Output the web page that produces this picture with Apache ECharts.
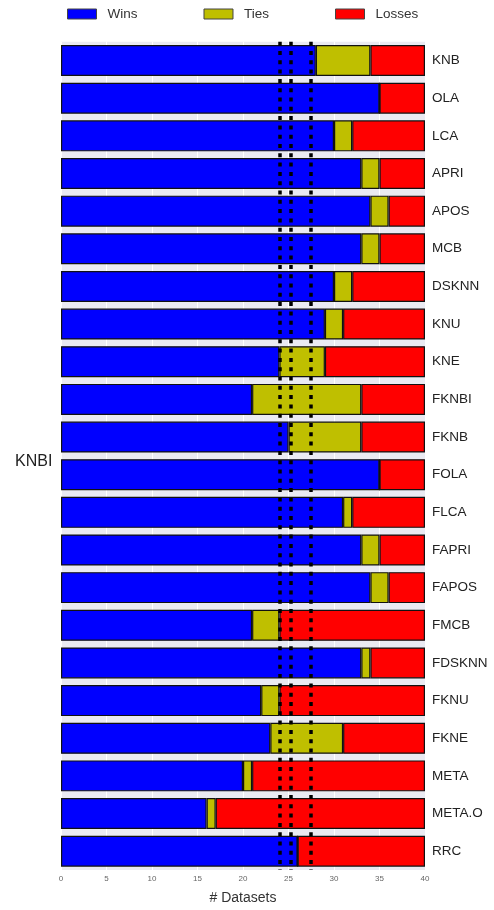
<!DOCTYPE html>
<html>
<head>
<meta charset="utf-8">
<script src="https://cdn.jsdelivr.net/npm/echarts@6/dist/echarts.min.js"></script>
<style>
html,body{margin:0;padding:0;background:#fff;}
#chart{width:494px;height:910px;}
</style>
</head>
<body>
<div id="chart"></div>
<script>
const categories = ["KNB","OLA","LCA","APRI","APOS","MCB","DSKNN","KNU","KNE","FKNBI","FKNB","FOLA","FLCA","FAPRI","FAPOS","FMCB","FDSKNN","FKNU","FKNE","META","META.O","RRC"];
const wins   = [28,35,30,33,34,33,30,29,24,21,25,35,31,33,34,21,33,22,23,20,16,26];
const ties   = [ 6, 0, 2, 2, 2, 2, 2, 2, 5,12, 8, 0, 1, 2, 2, 3, 1, 2, 8, 1, 1, 0];
const losses = [ 6, 5, 8, 5, 4, 5, 8, 9,11, 7, 7, 5, 8, 5, 4,16, 6,16, 9,19,23,14];
const criticalValues = [24.05, 25.25, 27.4];
const xTicks = [0,5,10,15,20,25,30,35,40];
const baseline = "KNBI";

const chart = echarts.init(document.getElementById('chart'), null, {renderer:'canvas'});
const FONT = '"Liberation Sans", Arial, Helvetica, sans-serif';
const barStyle = (c) => ({color:c, borderColor:'#111', borderWidth:1.2});

const option = {
  animation:false,
  backgroundColor:'#ffffff',
  title:{
    text: baseline, left: 10, top: 449,
    textStyle:{fontFamily:FONT, fontSize:16, fontWeight:'normal', color:'#222'}
  },
  legend:{
    data:[
      {name:'Wins', icon:'rect', itemStyle:{borderColor:'#444', borderWidth:1}},
      {name:'Ties', icon:'rect', itemStyle:{borderColor:'#444', borderWidth:1}},
      {name:'Losses', icon:'rect', itemStyle:{borderColor:'#444', borderWidth:1}}
    ],
    left:62, top:2,
    itemWidth:29, itemHeight:10, itemGap:66,
    textStyle:{fontFamily:FONT, fontSize:13.5, color:'#333', padding:[0,0,0,6]}
  },
  grid:{
    left:61, right:69, top:41.7, bottom:32,
    show:true, backgroundColor:'#EAEAF2', borderWidth:0, containLabel:false
  },
  xAxis:{
    type:'value', min:xTicks[0], max:xTicks[xTicks.length-1], interval:5,
    name:'# Datasets', nameLocation:'middle', nameGap:21,
    nameTextStyle:{fontFamily:FONT, fontSize:14, color:'#333'},
    axisLine:{show:false}, axisTick:{show:false},
    axisLabel:{fontFamily:FONT, fontSize:8, color:'#666', margin:5},
    splitLine:{show:true, lineStyle:{color:'#ffffff', width:1}}
  },
  yAxis:{
    type:'category', data:categories, inverse:true, position:'right',
    axisLine:{show:false}, axisTick:{show:false},
    axisLabel:{fontFamily:FONT, fontSize:13.5, color:'#222', margin:7},
    splitLine:{show:false}
  },
  series:[
    {name:'Wins', type:'bar', stack:'t', data:wins, barWidth:31, itemStyle:barStyle('#0000FF')},
    {name:'Ties', type:'bar', stack:'t', data:ties, barWidth:31, itemStyle:barStyle('#BFBF00')},
    {name:'Losses', type:'bar', stack:'t', data:losses, barWidth:31, itemStyle:barStyle('#FF0000'),
     markLine:{
       silent:true, symbol:['none','none'], label:{show:false},
       lineStyle:{color:'#000', width:3.5, type:[4,5.3], cap:'butt', opacity:1},
       emphasis:{disabled:true},
       data: criticalValues.map(v => ({xAxis:v}))
     }}
  ]
};
chart.setOption(option);
</script>
</body>
</html>
